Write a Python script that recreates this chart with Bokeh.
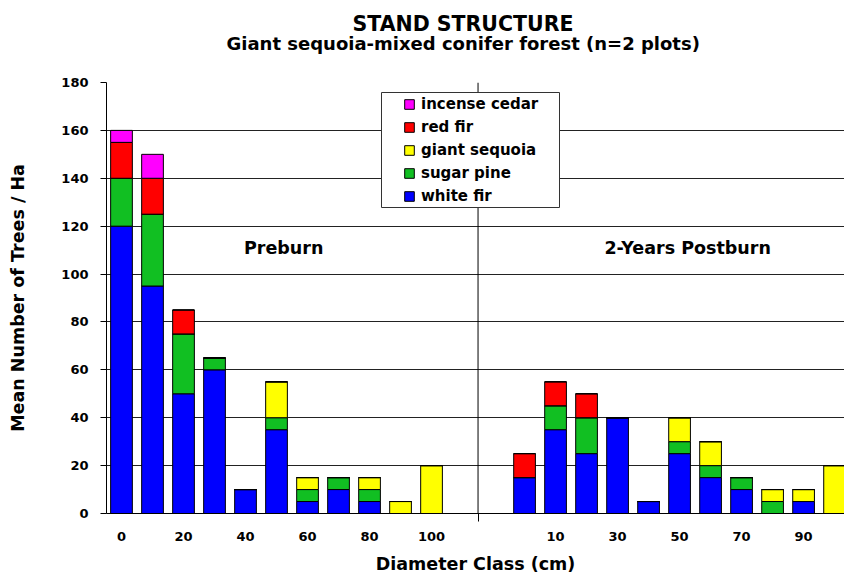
from bokeh.plotting import figure
from bokeh.models import (ColumnDataSource, Legend, LegendItem, Label, Span,
                          FixedTicker, BoxAnnotation, Title)
from bokeh.embed import file_html
from bokeh.resources import INLINE

# ---------------- data ----------------
classes = [0, 10, 20, 30, 40, 50, 60, 70, 80, 90, 100]
species = ["white fir", "sugar pine", "giant sequoia", "red fir", "incense cedar"]
colors = ["#0000FF", "#11BF22", "#FFFF00", "#FF0000", "#FF00FF"]

white_fir_pre = [120, 95, 50, 60, 10, 35, 5, 10, 5, 0, 0]
sugar_pine_pre = [20, 30, 25, 5, 0, 5, 5, 5, 5, 0, 0]
giant_sequoia_pre = [0, 0, 0, 0, 0, 15, 5, 0, 5, 5, 20]
red_fir_pre = [15, 15, 10, 0, 0, 0, 0, 0, 0, 0, 0]
incense_cedar_pre = [5, 10, 0, 0, 0, 0, 0, 0, 0, 0, 0]

white_fir_post = [15, 35, 25, 40, 5, 25, 15, 10, 0, 5, 0]
sugar_pine_post = [0, 10, 15, 0, 0, 5, 5, 5, 5, 0, 0]
giant_sequoia_post = [0, 0, 0, 0, 0, 10, 10, 0, 5, 5, 20]
red_fir_post = [10, 10, 10, 0, 0, 0, 0, 0, 0, 0, 0]
incense_cedar_post = [0, 0, 0, 0, 0, 0, 0, 0, 0, 0, 0]

group_labels = ["Preburn", "2-Years Postburn"]
title_text = "STAND STRUCTURE"
subtitle_text = "Giant sequoia-mixed conifer forest (n=2 plots)"

# ---------------- layout of category slots ----------------
n = len(classes)
gap = 2                       # two empty slots between the groups
pre_x = list(range(n))
post_x = [n + gap + i for i in range(n)]
divider_x = n - 0.5 + 1       # midway through the empty gap

data = {"x": pre_x + post_x}
pre = [white_fir_pre, sugar_pine_pre, giant_sequoia_pre, red_fir_pre, incense_cedar_pre]
post = [white_fir_post, sugar_pine_post, giant_sequoia_post, red_fir_post, incense_cedar_post]
for sp, a, b in zip(species, pre, post):
    data[sp] = a + b
source = ColumnDataSource(data)

# tick labels: every other class (Excel label interval 2)
tick_pos = [pre_x[i] for i in range(0, n, 2)] + [post_x[i] for i in range(1, n, 2)]
tick_lab = [str(classes[i]) for i in range(0, n, 2)] + [str(classes[i]) for i in range(1, n, 2)]

FONT = "DejaVu Sans"

p = figure(width=844, height=578, x_range=(-0.484, 23.32), y_range=(0, 180),
           output_backend="svg", toolbar_location=None,
           min_border_left=106, min_border_right=0, min_border_top=82,
           min_border_bottom=65)
p.outline_line_color = None
p.background_fill_color = "white"

# titles: the first one added sits closest to the plot frame
p.add_layout(Title(text=" ", text_font_size="10px", standoff=16), "above")   # spacer
p.add_layout(Title(text=subtitle_text, align="left", offset=120, standoff=0,
                   text_font=FONT, text_font_style="bold", text_font_size="18px",
                   text_color="black"), "above")
p.add_layout(Title(text=title_text, align="left", offset=246, standoff=-11,
                   text_font=FONT, text_font_style="bold", text_font_size="20.5px",
                   text_color="black"), "above")

renderers = p.vbar_stack(species, x="x", width=0.7, color=colors,
                         line_color="black", line_width=1, source=source)

# axes
p.xaxis.ticker = FixedTicker(ticks=tick_pos, minor_ticks=[divider_x])
p.xaxis.major_label_overrides = {pos: lab for pos, lab in zip(tick_pos, tick_lab)}
p.xaxis.major_tick_line_color = None
p.xaxis.major_tick_out = 0
p.xaxis.major_tick_in = 0
p.xaxis.minor_tick_out = 8
p.xaxis.minor_tick_in = 0
p.xaxis.minor_tick_line_color = "black"
p.xaxis.major_label_standoff = 10
p.xaxis.axis_label = "Diameter Class (cm)"
p.xaxis.axis_label_standoff = 10

p.yaxis.ticker = FixedTicker(ticks=list(range(0, 181, 20)))
p.yaxis.minor_tick_line_color = None
p.yaxis.major_tick_out = 6
p.yaxis.major_tick_in = 0
p.yaxis.major_label_standoff = 12
p.yaxis.axis_label = "Mean Number of Trees / Ha"
p.yaxis.axis_label_standoff = 30

for ax in (p.xaxis, p.yaxis):
    ax.axis_line_color = "black"
    ax.major_label_text_font = FONT
    ax.major_label_text_font_style = "bold"
    ax.major_label_text_font_size = "13px"
    ax.major_label_text_color = "black"
    ax.axis_label_text_font = FONT
    ax.axis_label_text_font_style = "bold"
    ax.axis_label_text_font_size = "17.5px"
    ax.axis_label_text_color = "black"

p.xgrid.grid_line_color = None
p.ygrid.ticker = FixedTicker(ticks=list(range(0, 181, 20)))
p.ygrid.grid_line_color = "#222222"
p.ygrid.grid_line_width = 1

# group divider
p.add_layout(Span(location=divider_x, dimension="height", line_color="black", line_width=1))

# group labels
p.add_layout(Label(x=(pre_x[0] + pre_x[-1]) / 2 + 0.23, y=111, text=group_labels[0],
                   text_align="center", text_baseline="middle", text_font=FONT,
                   text_font_style="bold", text_font_size="17.5px", text_color="black"))
p.add_layout(Label(x=(post_x[0] + post_x[-1]) / 2 + 0.26, y=111, text=group_labels[1],
                   text_align="center", text_baseline="middle", text_font=FONT,
                   text_font_style="bold", text_font_size="17.5px", text_color="black"))

# legend frame + legend
p.add_layout(BoxAnnotation(left=275, right=453, bottom=306, top=421,
                           left_units="screen", right_units="screen",
                           bottom_units="screen", top_units="screen",
                           fill_color="white", fill_alpha=1.0,
                           line_color="#333333", line_width=1, line_alpha=1.0))
items = [LegendItem(label=sp, renderers=[r]) for sp, r in zip(species, renderers)][::-1]
legend = Legend(items=items, location=(297, 306), padding=0, spacing=0,
                label_height=23, glyph_height=12, glyph_width=12, label_standoff=6,
                border_line_color=None, background_fill_alpha=0.0,
                label_text_font=FONT, label_text_font_style="bold",
                label_text_font_size="15px", label_text_color="black", margin=0)
p.add_layout(legend)

open("out.html", "w").write(file_html(p, INLINE))
